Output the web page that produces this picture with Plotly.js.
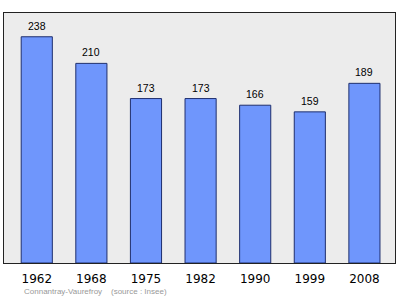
<!DOCTYPE html>
<html>
<head>
<meta charset="utf-8">
<script src="https://cdn.plot.ly/plotly-3.0.1.min.js"></script>
<style>
  html, body { margin: 0; padding: 0; background: #ffffff; }
  #chart { width: 400px; height: 299px; }
</style>
</head>
<body>
<div id="chart"></div>
<script>
// Population by census year
const years = ['1962', '1968', '1975', '1982', '1990', '1999', '2008'];
const population = [238, 210, 173, 173, 166, 159, 189];
const footerText = 'Connantray-Vaurefroy    (source : Insee)';

const trace = {
  type: 'bar',
  x: years,
  y: population,
  width: 0.57,
  marker: {
    color: '#6f96fc',
    line: { color: '#1f2f6e', width: 1 }
  },
  hoverinfo: 'x+y'
};

// Value labels above each bar (x given as category index)
const valueLabels = years.map((yr, i) => ({
  x: i,
  y: population[i],
  xref: 'x',
  yref: 'y',
  text: String(population[i]),
  showarrow: false,
  yanchor: 'bottom',
  yshift: 3,
  font: { family: 'Liberation Sans, Arial, sans-serif', size: 10.5, color: '#000000' }
}));

const footer = {
  xref: 'paper',
  yref: 'paper',
  x: 0.046,
  y: -0.115,
  xanchor: 'left',
  yanchor: 'middle',
  text: footerText,
  showarrow: false,
  font: { family: 'Liberation Sans, Arial, sans-serif', size: 8, color: '#999999' }
};

const layout = {
  width: 400,
  height: 299,
  margin: { l: 4, r: 5, t: 13, b: 36 },
  paper_bgcolor: '#ffffff',
  plot_bgcolor: '#ececec',
  showlegend: false,
  xaxis: {
    type: 'category',
    range: [-0.6, 6.56],
    showgrid: false,
    zeroline: false,
    showline: true,
    mirror: true,
    linecolor: '#222222',
    linewidth: 1,
    ticks: '',
    tickfont: { family: 'DejaVu Sans, sans-serif', size: 12, color: '#000000' },
    ticklabelstandoff: 5
  },
  yaxis: {
    range: [0, 263],
    showgrid: false,
    zeroline: false,
    showline: true,
    mirror: true,
    linecolor: '#222222',
    linewidth: 1,
    showticklabels: false,
    ticks: ''
  },
  annotations: valueLabels.concat([footer])
};

Plotly.newPlot('chart', [trace], layout, { displayModeBar: false, staticPlot: true });
</script>
</body>
</html>
